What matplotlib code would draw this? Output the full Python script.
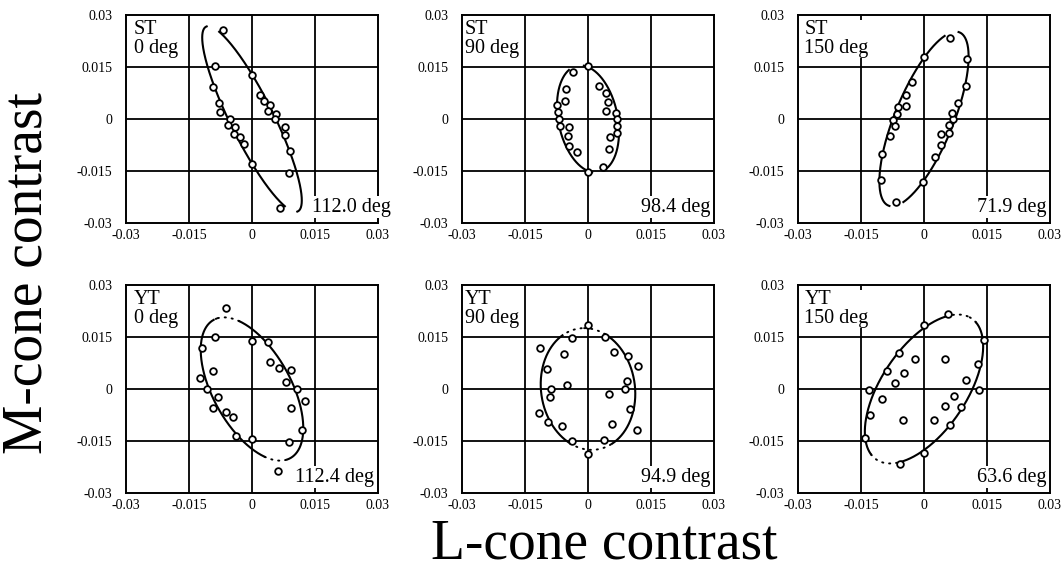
import numpy as np
import matplotlib.pyplot as plt

plt.rcParams['font.family'] = ['Liberation Serif', 'DejaVu Serif']

observers = ['ST', 'ST', 'ST', 'YT', 'YT', 'YT']
adapt_deg = [0, 90, 150, 0, 90, 150]
fit_deg = [112.0, 98.4, 71.9, 112.4, 94.9, 63.6]
semi_major = [0.0288, 0.0156, 0.0264, 0.0220, 0.0176, 0.0234]
semi_minor = [0.0053, 0.0071, 0.0071, 0.0096, 0.0112, 0.0106]
# stretches of each fitted ellipse (parametric angle, deg) not drawn solid
gap_top = [(-24, 0), (-10, 20), (0, 23), (-29, 5), (-29, 25), (-14, 24)]
gap_bot = [(156, 180), (170, 200), (180, 203), (151, 180), (150, 203), (164, 204)]

st0_l = [-0.0068, -0.0089, -0.0093, -0.0079, -0.0077, -0.0053, -0.0057, -0.0040,
         -0.0044, -0.0029, -0.0018, 0.0, 0.0, 0.0018, 0.0028, 0.0042, 0.0038,
         0.0058, 0.0054, 0.0078, 0.0079, 0.0091, 0.0088, 0.0066]
st0_m = [0.0256, 0.0153, 0.0093, 0.0045, 0.0021, -0.0001, -0.0017, -0.0023,
         -0.0043, -0.0052, -0.0072, -0.0130, 0.0128, 0.0070, 0.0052, 0.0041,
         0.0023, 0.0014, -0.0001, -0.0023, -0.0045, -0.0093, -0.0156, -0.0257]

st90_l = [0.0, -0.0036, 0.0, 0.0035, -0.0052, -0.0054, -0.0075, -0.0072, -0.0070,
          -0.0067, -0.0046, -0.0048, -0.0046, -0.0026, 0.0025, 0.0044, 0.0047,
          0.0043, 0.0067, 0.0070, 0.0070, 0.0070, 0.0052, 0.0049]
st90_m = [0.0152, 0.0137, -0.0153, -0.0138, 0.0087, 0.0053, 0.0039, 0.0019, 0.0,
          -0.0019, -0.0024, -0.0048, -0.0077, -0.0094, 0.0094, 0.0076, 0.0048,
          0.0024, 0.0016, 0.0, -0.0019, -0.0041, -0.0053, -0.0087]

st150_l = [0.0063, 0.0, 0.0102, 0.0101, -0.0029, -0.0043, -0.0062, -0.0043,
           -0.0065, -0.0074, -0.0070, -0.0082, -0.0100, -0.0102, -0.0066, -0.0002,
           0.0026, 0.0040, 0.0040, 0.0059, 0.0060, 0.0068, 0.0066, 0.0081]
st150_m = [0.0235, 0.0178, 0.0172, 0.0096, 0.0108, 0.0069, 0.0034, 0.0037,
           0.0014, -0.0003, -0.0020, -0.0049, -0.0101, -0.0176, -0.0238, -0.0181,
           -0.0111, -0.0075, -0.0043, -0.0039, -0.0017, -0.0001, 0.0016, 0.0045]

yt0_l = [-0.0063, -0.0087, 0.0, 0.0038, -0.0118, -0.0092, -0.0124, 0.0044, 0.0064,
         0.0093, 0.0080, 0.0107, -0.0108, -0.0081, -0.0094, -0.0063, -0.0045,
         0.0125, 0.0092, 0.0118, -0.0037, 0.0, 0.0087, 0.0063]
yt0_m = [0.0234, 0.0151, 0.0139, 0.0136, 0.0118, 0.0053, 0.0032, 0.0077, 0.0062,
         0.0054, 0.0020, 0.0, 0.0, -0.0023, -0.0054, -0.0065, -0.0080, -0.0035,
         -0.0054, -0.0119, -0.0136, -0.0143, -0.0153, -0.0236]

yt90_l = [0.0, -0.0038, 0.0041, -0.0114, -0.0058, 0.0062, 0.0096, 0.0118, -0.0097,
          -0.0051, 0.0092, -0.0087, 0.0089, -0.0091, 0.0051, 0.0099, -0.0116,
          -0.0095, -0.0061, 0.0058, 0.0116, -0.0039, 0.0039, 0.0]
yt90_m = [0.0184, 0.0146, 0.0150, 0.0117, 0.0100, 0.0107, 0.0094, 0.0067, 0.0057,
          0.0012, 0.0024, 0.0, 0.0, -0.0024, -0.0014, -0.0057, -0.0069, -0.0096,
          -0.0108, -0.0101, -0.0118, -0.0151, -0.0148, -0.0187]

yt150_l = [0.0058, 0.0, 0.0142, -0.0059, -0.0022, 0.0051, 0.0129, -0.0087, -0.0047,
           -0.0069, 0.0101, -0.0130, 0.0132, -0.0101, 0.0071, 0.0049, 0.0088,
           -0.0128, -0.0051, 0.0024, 0.0062, -0.0141, 0.0, -0.0058]
yt150_m = [0.0215, 0.0184, 0.0141, 0.0103, 0.0087, 0.0087, 0.0073, 0.0051, 0.0046,
           0.0017, 0.0026, -0.0002, -0.0002, -0.0028, -0.0020, -0.0049, -0.0053,
           -0.0074, -0.0088, -0.0088, -0.0105, -0.0142, -0.0186, -0.0217]

l_data = [st0_l, st90_l, st150_l, yt0_l, yt90_l, yt150_l]
m_data = [st0_m, st90_m, st150_m, yt0_m, yt90_m, yt150_m]

ticks = [-0.03, -0.015, 0, 0.015, 0.03]
tick_labels = ['-0.03', '-0.015', '0', '0.015', '0.03']

W, H = 1062, 576
fig = plt.figure(figsize=(W / 100, H / 100), dpi=100)

col_left = [126, 462, 798]
row_top = [15, 285]
ax_w, ax_h = 252, 208
corner_x = [0.03, 0.012, 0.025, 0.03, 0.012, 0.025]
label_x = [1.05, 0.985, 0.985, 0.985, 0.985, 0.985]


def in_gap(t, g):
    return ((t - g[0]) % 360) < (g[1] - g[0])


for i in range(6):
    r, c = divmod(i, 3)
    ax = fig.add_axes([col_left[c] / W, 1 - (row_top[r] + ax_h) / H, ax_w / W, ax_h / H])
    ax.set_xlim(-0.03, 0.03)
    ax.set_ylim(-0.03, 0.03)
    ax.set_xticks(ticks)
    ax.set_yticks(ticks)
    ax.set_xticklabels(tick_labels)
    ax.set_yticklabels(tick_labels)
    ax.tick_params(length=0, labelsize=10, colors='black')
    ax.tick_params(axis='x', pad=4)
    ax.tick_params(axis='y', pad=10)
    for v in [-0.015, 0, 0.015]:
        ax.axhline(v, color='black', lw=1.3, zorder=1)
        ax.axvline(v, color='black', lw=1.3, zorder=1)
    for s in ax.spines.values():
        s.set_linewidth(1.4)
        s.set_zorder(5)

    # fitted ellipse
    t = np.linspace(0, 360, 1441)
    th = np.radians(fit_deg[i])
    tr = np.radians(t)
    a, b = semi_major[i], semi_minor[i]
    ex = a * np.cos(tr) * np.cos(th) - b * np.sin(tr) * np.sin(th)
    ey = a * np.cos(tr) * np.sin(th) + b * np.sin(tr) * np.cos(th)
    gap = in_gap(t, gap_top[i]) | in_gap(t, gap_bot[i])
    ax.plot(np.where(gap, np.nan, ex), np.where(gap, np.nan, ey),
            color='black', lw=1.5, zorder=2)
    if observers[i] == 'YT':
        ax.plot(np.where(gap, ex, np.nan), np.where(gap, ey, np.nan),
                color='black', lw=1.4, ls=(0, (0.6, 3.0)),
                dash_capstyle='round', zorder=2)

    ax.plot(l_data[i], m_data[i], 'o', ms=4.8, mfc='white', mec='black',
            mew=1.3, zorder=3)

    ax.text(corner_x[i], 0.975, f'{observers[i]}\n{adapt_deg[i]} deg', transform=ax.transAxes,
            ha='left', va='top', fontsize=14.5, linespacing=0.95, zorder=6,
            bbox=dict(facecolor='white', edgecolor='none', pad=0.3))
    ax.text(label_x[i], 0.03, f'{fit_deg[i]:.1f} deg', transform=ax.transAxes,
            ha='right', va='bottom', fontsize=14.5, zorder=6,
            bbox=dict(facecolor='white', edgecolor='none', pad=1.0))

fig.text(0.026, 0.526, 'M-cone contrast', rotation=90, ha='center', va='center',
         fontsize=40)
fig.text(0.569, 0.055, 'L-cone contrast', ha='center', va='center', fontsize=40)

fig.savefig('out.png', dpi=100)
